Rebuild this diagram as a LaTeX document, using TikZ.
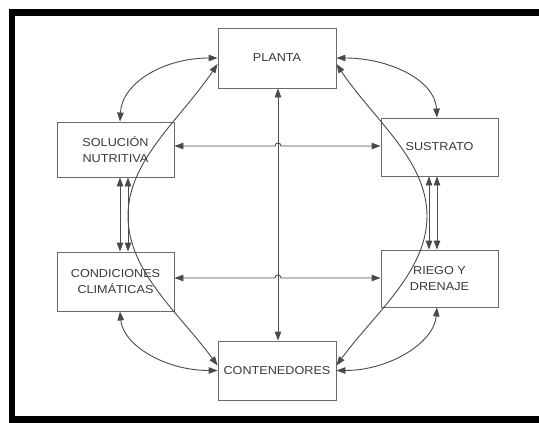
\documentclass[tikz,border=0pt]{standalone}
\usepackage{fontspec}
\setmainfont{Liberation Sans}[FakeStretch=1.1]
\usetikzlibrary{arrows.meta}
\definecolor{boxline}{HTML}{6A6A6A}
\definecolor{conn}{HTML}{4A4A4A}
\definecolor{txt}{HTML}{383838}
\begin{document}
\begin{tikzpicture}[x=1pt,y=-1pt,
  box/.style={draw=boxline,line width=0.9pt,fill=white,align=center,
    text=txt,font=\fontsize{11.5}{16.5}\selectfont,inner sep=2pt},
  link/.style={draw=conn,line width=0.9pt,
    {Triangle[length=9pt,width=6.5pt]}-{Triangle[length=9pt,width=6.5pt]}}]
\useasboundingbox (0,0) rectangle (539,423);
\fill[white] (0,0) rectangle (539,423);
% outer frame: left, top and bottom sides
\draw[line width=6.5pt,line join=miter] (539,12.5) -- (12,12.5) -- (12,419.5) -- (539,419.5);

% boxes
\node[box,minimum width=118pt,minimum height=60pt] (pl) at (277,58) {PLANTA};
\node[box,minimum width=117pt,minimum height=55pt] (sol) at (115.5,149.5) {SOLUCIÓN\\NUTRITIVA};
\node[box,minimum width=117pt,minimum height=58pt] (sus) at (439.5,147) {SUSTRATO};
\node[box,minimum width=117pt,minimum height=59pt] (cd) at (115.5,281.5) {CONDICIONES\\CLIMÁTICAS};
\node[box,minimum width=117pt,minimum height=57pt] (ri) at (439.5,278.5) {RIEGO Y\\DRENAJE};
\node[box,minimum width=118pt,minimum height=59pt] (ct) at (277,370.5) {CONTENEDORES};

% reference coordinates for straight connectors
\coordinate (v) at (278,0);
\coordinate (h1) at (0,146);
\coordinate (h2) at (0,278);
\coordinate (pa) at (120,0);
\coordinate (pb) at (128,0);
\coordinate (pc) at (429,0);
\coordinate (pd) at (437,0);
\coordinate (j1l) at (275,146);
\coordinate (j1r) at (281,146);
\coordinate (j2l) at (275,278);
\coordinate (j2r) at (281,278);
\coordinate (ml) at (128,216);
\coordinate (mr) at (427,216);

% central vertical link
\draw[link] (pl.south -| v) -- (ct.north -| v);

% horizontal links with line jumps
\draw[link] (sol.east |- h1) -- (j1l)
  .. controls ([yshift=4pt]j1l) and ([yshift=4pt]j1r) .. (j1r) -- (sus.west |- h1);
\draw[link] (cd.east |- h2) -- (j2l)
  .. controls ([yshift=4pt]j2l) and ([yshift=4pt]j2r) .. (j2r) -- (ri.west |- h2);

% paired vertical links
\draw[link] (sol.south -| pa) -- (cd.north -| pa);
\draw[link] (sol.south -| pb) -- (cd.north -| pb);
\draw[link] (sus.south -| pc) -- (ri.north -| pc);
\draw[link] (sus.south -| pd) -- (ri.north -| pd);

% short arcs
\draw[link] (sol.north -| pa) .. controls (122,82) and (165,58) .. (pl.west);
\draw[link] (cd.south -| pa) .. controls (123,345) and (165,370.5) .. (ct.west);
\draw[link] (sus.north -| pd) .. controls (435,80) and (389,58) .. (pl.east);
\draw[link] (ri.south -| pd) .. controls (434,343) and (389,370.5) .. (ct.east);

% long arcs
\draw[link] ([yshift=-6pt]pl.west) .. controls (180,120) and (128,160) .. (ml)
  .. controls (128,272) and (180,314) .. ([yshift=5pt]ct.west);
\draw[link] ([yshift=-6pt]pl.east) .. controls (374,120) and (427,160) .. (mr)
  .. controls (427,272) and (374,314) .. ([yshift=5pt]ct.east);
\end{tikzpicture}
\end{document}
